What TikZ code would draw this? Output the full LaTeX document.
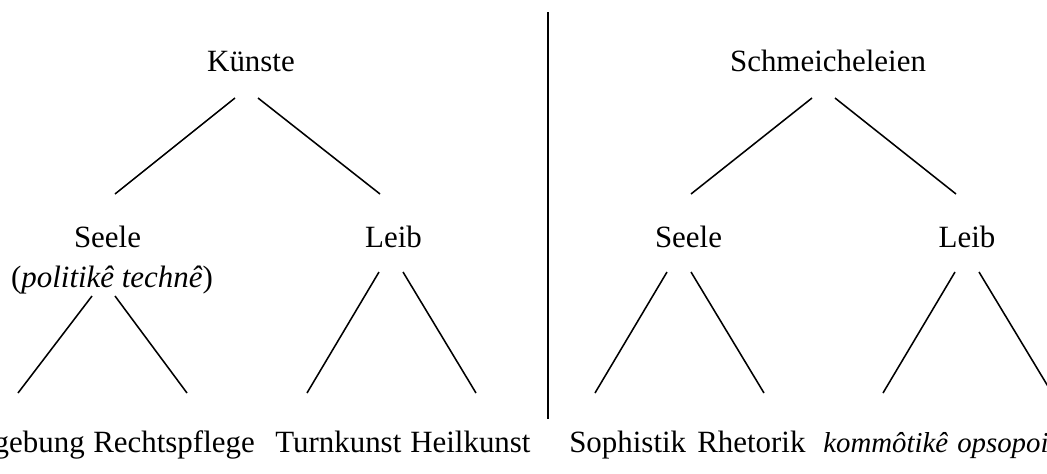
\documentclass[tikz,border=0pt]{standalone}
\usepackage{fontspec}
\setmainfont{Liberation Serif}
\begin{document}
\begin{tikzpicture}[x=0.025cm,y=-0.025cm,
    word/.style={anchor=base,inner sep=0pt,font=\fontsize{22}{26}\selectfont},
    kursiv/.style={word,anchor=base west,font=\fontsize{20.5}{24}\selectfont\itshape},
    ast/.style={line width=1.1pt}]
  \useasboundingbox (0,0) rectangle (1047,474);
  \clip (0,0) rectangle (1047,474);
  % Oberste Ebene
  \node[word] (kuenste) at (251,71) {Künste};
  \node[word] (schmeichel) at (828,71) {Schmeicheleien};
  % Mittlere Ebene
  \node[word] (seeleL) at (107.5,247) {Seele};
  \node[word] (politike) at (112,287) {(\textit{politikê technê})};
  \node[word] (leibL) at (393.5,247) {Leib};
  \node[word] (seeleR) at (688.5,247) {Seele};
  \node[word] (leibR) at (967,247) {Leib};
  % Unterste Ebene
  \node[word,anchor=base east] (gesetz) at (85,452) {Gesetzgebung};
  \node[word,anchor=base west] (recht) at (93,452) {Rechtspflege};
  \node[word,anchor=base west] (turn) at (275,452) {Turnkunst};
  \node[word,anchor=base west] (heil) at (410,452) {Heilkunst};
  \node[word,anchor=base west] (soph) at (569,452) {Sophistik};
  \node[word,anchor=base west] (rhet) at (697,452) {Rhetorik};
  \node[kursiv] (kommo) at (823,452) {kommôtikê};
  \node[kursiv] (opso) at (957,452) {opsopoiikê};
  % Trennlinie
  \coordinate (mitte-o) at (548,12);
  \coordinate (mitte-u) at (548,419);
  \draw[line width=1.4pt] (mitte-o) -- (mitte-u);
  % Aeste
  \foreach \a/\b [count=\i] in {{235,98}/{115,194}, {258,98}/{380,194},
      {812,98}/{691,194}, {835,98}/{956,194},
      {92,296}/{18,393}, {115,296}/{187,393},
      {379,272}/{307,393}, {403,272}/{476,393},
      {667,272}/{595,393}, {691,272}/{764,393},
      {955,272}/{883,393}, {979,272}/{1052,393}}{
    \coordinate (ast-o\i) at (\a);
    \coordinate (ast-u\i) at (\b);
    \draw[ast] (ast-o\i) -- (ast-u\i);
  }
\end{tikzpicture}
\end{document}
